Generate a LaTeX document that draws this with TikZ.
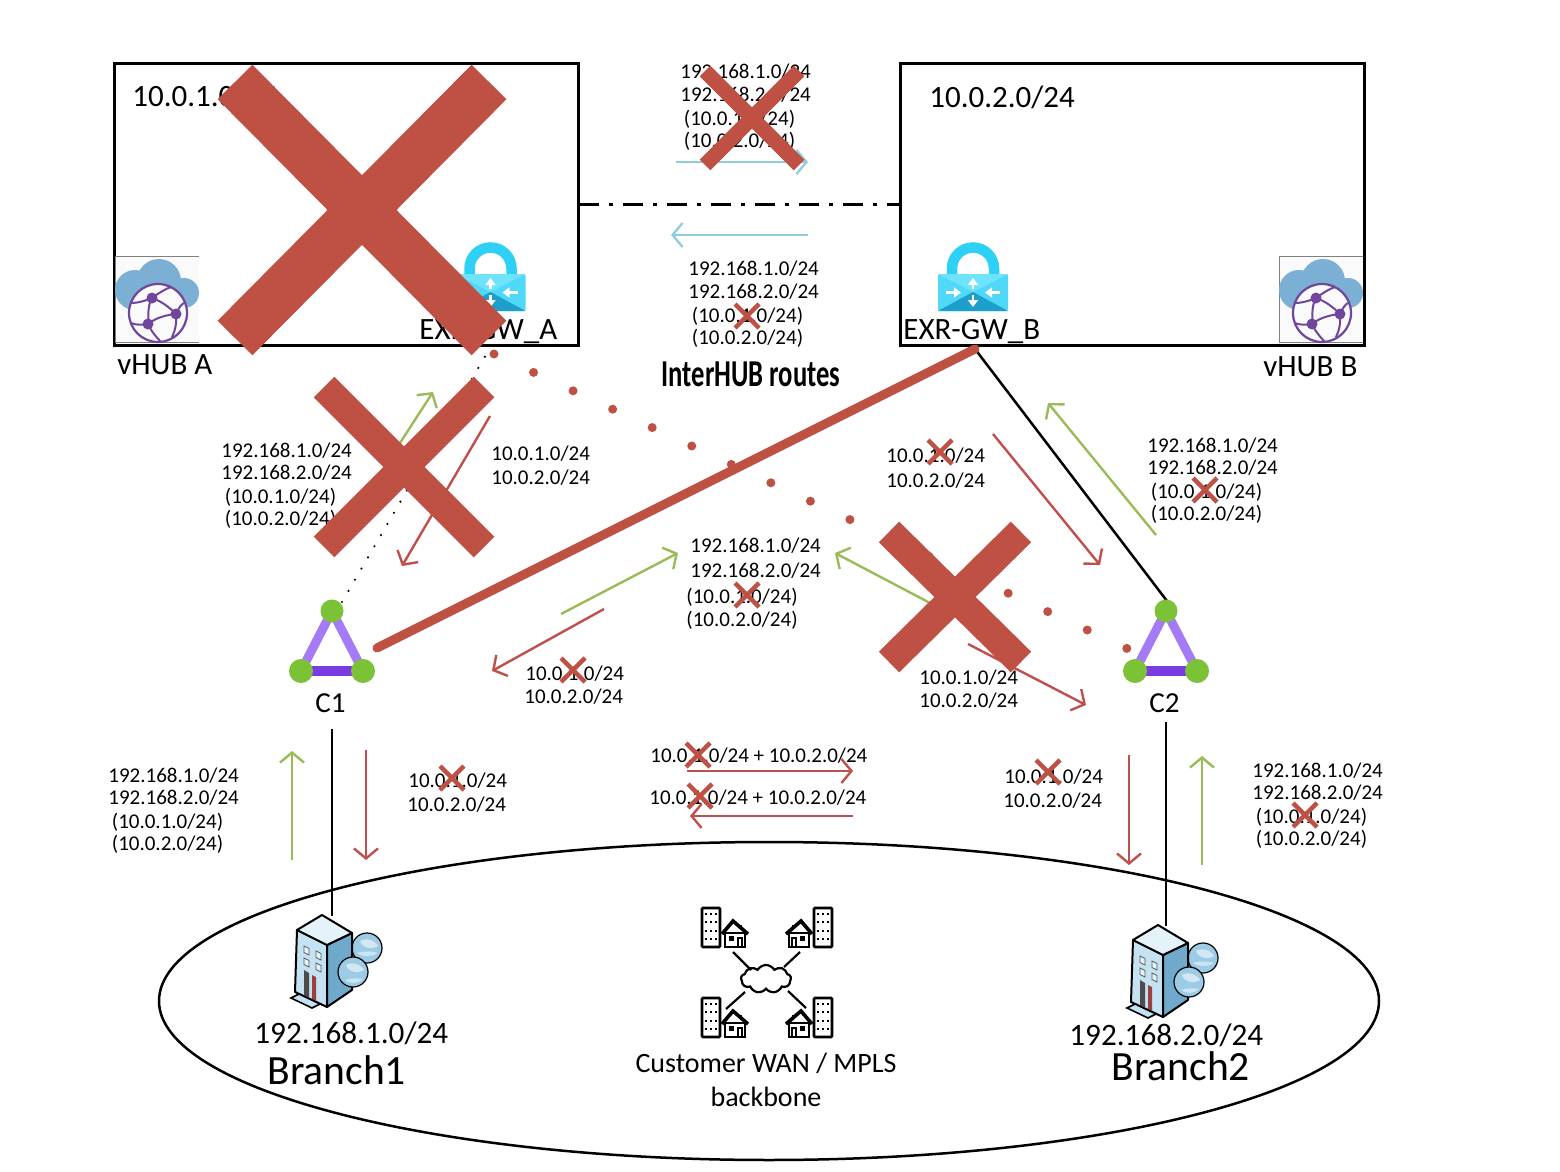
\documentclass[tikz,border=0pt]{standalone}
\usepackage{fontspec}
\setmainfont{Carlito}
\usetikzlibrary{arrows.meta,shapes.geometric,shapes.symbols}
\definecolor{xred}{HTML}{BE5044}
\definecolor{agreen}{HTML}{9BBB59}
\definecolor{ablue}{HTML}{92CDDC}
\definecolor{ared}{HTML}{C0504D}
\definecolor{cloudblue}{HTML}{7BAFD4}
\definecolor{globepurple}{HTML}{71459B}
\definecolor{nodegreen}{HTML}{7CC236}
\definecolor{sidepurple}{HTML}{A57AF5}
\definecolor{basepurple}{HTML}{7A3CE0}
\definecolor{lockcyan}{HTML}{2FD0F5}
\definecolor{lockbody}{HTML}{4FD8F8}
\definecolor{lockdark}{HTML}{1E9FCB}
\definecolor{locklight}{HTML}{6FE3FB}
\definecolor{bldgtop}{HTML}{E4F2FA}
\definecolor{bldgleft}{HTML}{C4E2F2}
\definecolor{bldgright}{HTML}{6FAACD}
\definecolor{bldgglobe}{HTML}{9CCBE6}
\tikzset{
  x=0.5pt,y=-0.5pt,
  lab/.style={anchor=base west,xshift=-.5pt,yshift=-4pt,inner sep=0pt,font=\fontsize{10.5}{12}\selectfont},
  big/.style={anchor=base west,xshift=-.5pt,yshift=-5pt,inner sep=0pt,font=\fontsize{15.5}{18}\selectfont},
  bigger/.style={anchor=base west,xshift=-.5pt,yshift=-5pt,inner sep=0pt,font=\fontsize{15.6}{18}\selectfont},
  huge/.style={anchor=base west,xshift=-.5pt,yshift=-6pt,inner sep=0pt,font=\fontsize{20.8}{24}\selectfont},
  hubbox/.style={draw=black,line width=1.5pt,minimum width=232pt,minimum height=140.5pt,inner sep=0pt,outer sep=0pt},
  arr/.style={line width=1.2pt,-{Straight Barb[length=5pt,width=12pt,line width=1.2pt]}},
  redarr/.style={arr,draw=ared},
  greenarr/.style={arr,draw=agreen},
  bluearr/.style={arr,draw=ablue},
  link/.style={draw=black,line width=1.25pt},
}
% big and small crosses: centre x, centre y, half size x, half size y, width
\newcommand\crossmark[5]{%
  \draw[xred,line width=#5] (#1-#3,#2-#4) -- (#1+#3,#2+#4);
  \draw[xred,line width=#5] (#1+#3,#2-#4) -- (#1-#3,#2+#4);}
\newcommand\tinyx[2]{\crossmark{#1}{#2}{12}{12}{2.2pt}}
% four line route list
\newcommand\routelist[3]{%
  \node[lab] (#1a) at (#2,#3) {192.168.1.0/24};
  \node[lab] (#1b) at (#2,#3+22.5) {192.168.2.0/24};
  \node[lab] (#1c) at (#2+3.5,#3+46.5) {(10.0.1.0/24)};
  \node[lab] (#1d) at (#2+3.5,#3+68.5) {(10.0.2.0/24)};}
\newcommand\tworoutes[5]{%
  \node[lab] (#1a) at (#2,#3) {10.0.1.0/24};
  \node[lab] (#1b) at (#4,#5) {10.0.2.0/24};}
\tikzset{
  hubicon/.pic={
    \fill[gray!4] (0,0) rectangle (84,85);
    \draw[gray,line width=.5pt] (84,85) -- (0,85) -- (0,0) -- (84,0);
    \fill[cloudblue] (44,24) circle (22);
    \fill[cloudblue] (20,33) circle (20);
    \fill[cloudblue] (69,36) circle (15);
    \fill[cloudblue] (20,28) rectangle (69,51);
    \filldraw[fill=gray!4,draw=globepurple,line width=1.1pt] (43,56) circle (29);
    \draw[globepurple,line width=1pt]
      (37,41) .. controls (32,50) and (34,58) .. (33,67)
      (37,41) .. controls (46,44) and (54,50) .. (61,57)
      (33,67) .. controls (42,60) and (52,58) .. (61,57)
      (37,41) .. controls (30,44) and (22,46) .. (17,46)
      (37,41) .. controls (44,36) and (50,32) .. (56,30)
      (61,57) .. controls (64,50) and (67,47) .. (69,46)
      (61,57) .. controls (62,66) and (60,74) .. (57,80)
      (33,67) .. controls (26,68) and (20,68) .. (16,66)
      (33,67) .. controls (36,74) and (42,81) .. (46,85);
    \fill[globepurple] (37,41) circle (5.5);
    \fill[globepurple] (61,57) circle (5.5);
    \fill[globepurple] (33,67) circle (5.5);
  },
  lockicon/.pic={
    \draw[lockcyan,line width=5.25pt] (-21,36) -- (-21,26.5) arc (180:360:21) -- (21,36);
    \fill[lockbody,rounded corners=1pt] (-35,32) rectangle (35,69);
    \fill[locklight] (-35,32) -- (35,32) -- (0,50) -- cycle;
    \fill[lockdark] (-35,69) -- (35,69) -- (0,50) -- cycle;
    \draw[white,line width=1.1pt,-{Triangle[length=3.5pt,width=5pt]}] (0,47) -- (0,36);
    \draw[white,line width=1.1pt,-{Triangle[length=3.5pt,width=5pt]}] (0,53) -- (0,65);
    \draw[white,line width=1.1pt,-{Triangle[length=3.5pt,width=5pt]}] (-27,50.5) -- (-12,50.5);
    \draw[white,line width=1.1pt,-{Triangle[length=3.5pt,width=5pt]}] (27,50.5) -- (12,50.5);
  },
  triad/.pic={
    \draw[sidepurple,line width=4.5pt] (-31,60) -- (0,0) -- (31,60);
    \draw[basepurple,line width=5pt] (-31,60) -- (31,60);
    \fill[nodegreen] (0,0) circle (11.5);
    \fill[nodegreen] (-31,60) circle (12);
    \fill[nodegreen] (31,60) circle (12);
  },
  officebldg/.pic={
    \draw[black,line width=1.3pt,fill=white,rounded corners=.5pt] (702,908) rectangle (720,947);
    \foreach \yy in {914,922,931,939}{\foreach \xx in {706,711,716}{\fill[black] (\xx-1.2,\yy-1.2) rectangle (\xx+1.2,\yy+1.2);}}
  },
  houseicon/.pic={
    \draw[black,line width=1.3pt,fill=white] (725,933) rectangle (745,947);
    \draw[black,line width=1.8pt] (722,934) -- (733,921) -- (748,934);
    \draw[black,line width=1.2pt] (741,925) -- (741,930);
    \fill[black] (729,936) rectangle (734,941);
    \draw[black,line width=1pt] (738,947) -- (738,938) -- (742,938) -- (742,947);
  },
  buildingicon/.pic={
    \filldraw[fill=bldgglobe,draw=black,line width=.6pt] (367,948) circle (15);
    \fill[white,opacity=.55] (360,941) .. controls (366,937) and (376,941) .. (378,946) .. controls (372,950) and (362,948) .. (360,941);
    \fill[white,opacity=.5] (357,953) .. controls (362,957) and (372,957) .. (378,953) .. controls (372,951) and (362,951) .. (357,953);
    \filldraw[fill=bldgleft,draw=black,line width=1pt,line join=round] (297,930) -- (327,945) -- (327,1007) -- (295,992) -- cycle;
    \filldraw[fill=bldgright,draw=black,line width=1pt,line join=round] (327,945) -- (352,933) -- (352,990) -- (327,1007) -- cycle;
    \filldraw[fill=bldgtop,draw=black,line width=1pt,line join=round] (322,915) -- (352,933) -- (327,945) -- (297,930) -- cycle;
    \filldraw[fill=bldgglobe,draw=black,line width=.6pt] (353,972) circle (15);
    \fill[white,opacity=.55] (346,965) .. controls (352,961) and (362,965) .. (364,970) .. controls (358,974) and (348,972) .. (346,965);
    \fill[white,opacity=.5] (345,980) .. controls (350,984) and (358,984) .. (363,979) .. controls (358,978) and (350,978) .. (345,980);
    \foreach \xa/\ya in {304/946,316/951,304/958,316/963}{
      \filldraw[fill=bldgtop,draw=gray!70!black,line width=.4pt] (\xa,\ya) -- (\xa+5,\ya+2.5) -- (\xa+5,\ya+9) -- (\xa,\ya+6.5) -- cycle;}
    \fill[gray!60!black] (304,970) -- (309,973) -- (309,999) -- (304,996) -- cycle;
    \fill[ared!80!black] (312,975) -- (316,977) -- (316,1001) -- (312,999) -- cycle;
    \filldraw[fill=bldgleft,draw=black,line width=.8pt] (291,998) -- (299,994) -- (320,1004) -- (312,1008) -- cycle;
  },
}
\begin{document}
\begin{tikzpicture}
\useasboundingbox (0,0) rectangle (1560,1172);
\fill[white] (0,0) rectangle (1560,1172);

% ellipse
\node[ellipse,draw=black,line width=1.25pt,minimum width=610pt,minimum height=159pt,inner sep=0pt] (wan) at (769,1001) {};

% hub boxes
\node[hubbox] (hubA) at (346.5,204.5) {};
\node[hubbox] (hubB) at (1132,204.5) {};
\draw[black,line width=1.4pt,dash pattern=on 10pt off 5pt on 2pt off 5pt] (hubA.east) -- (hubB.west);

\pic at (115,257) {hubicon};
\pic at (1279,257) {hubicon};
\pic at (490.5,242) {lockicon};
\pic at (973,242) {lockicon};

\node[big] (netA) at (133,97) {10.0.1.0/24};
\node[big] (netB) at (930,98) {10.0.2.0/24};
\node[big] (gwA) at (420,329) {EXR-GW\_A};
\node[big] (gwB) at (904,329) {EXR-GW\_B};
\node[big] (vhubA) at (118,364) {vHUB A};
\node[big] (vhubB) at (1264,366) {vHUB B};
\node[inner sep=0pt,xscale=.70,font=\fontsize{19}{22}\selectfont\bfseries] (inter) at (751,374) {InterHUB routes};

% named ends
\coordinate (c1top) at (332,611);
\coordinate (c2top) at (1166,611);
\coordinate (gwAend) at (487,353);
\coordinate (gwBend) at (975,349);
\coordinate (c1dot) at (342,602);
\coordinate (c1thick) at (377,648);
\coordinate (c2in) at (1167,601);
\coordinate (c1low) at (332,729);
\coordinate (c2low) at (1166,722);
\coordinate (br1) at (332,916);
\coordinate (br2) at (1166,926);

% connectors
\draw[black,line width=1.2pt,line cap=round,dash pattern=on 0pt off 6.45pt] (c1dot) -- (gwAend);
\draw[link] (gwBend) -- (c2in);
\draw[link] (c1low) -- (br1);
\draw[link] (c2low) -- (br2);
\draw[xred,line width=4.5pt,line cap=round] (c1thick) -- (gwBend);
\foreach \i in {0,...,16}{\fill[xred] (494+39.55*\i,354+18.4*\i) circle (4.5);}

% triads
\pic at (332,611) {triad};
\pic at (1166,611) {triad};
\node[anchor=base west,xshift=-.5pt,yshift=-5pt,inner sep=0pt,font=\fontsize{14.5}{17}\selectfont] (c1lab) at (316,702) {C1};
\node[anchor=base west,xshift=-.5pt,yshift=-5pt,inner sep=0pt,font=\fontsize{14.5}{17}\selectfont] (c2lab) at (1150,702) {C2};

% icons in WAN
\pic at (0,0) {buildingicon};
\pic at (836,10) {buildingicon};

\pic at (0,0) {officebldg};
\pic at (0,0) {houseicon};
\pic[xscale=-1] at (1534,0) {officebldg};
\pic[xscale=-1] at (1534,0) {houseicon};
\pic at (0,90) {officebldg};
\pic at (0,90) {houseicon};
\pic[xscale=-1] at (1534,90) {officebldg};
\pic[xscale=-1] at (1534,90) {houseicon};
\node[cloud,draw=black,line width=1.1pt,fill=white,cloud puffs=9,cloud puff arc=120,aspect=1.7,minimum width=25pt,minimum height=14pt,inner sep=0pt] (wancloud) at (766,979) {};
\coordinate (w1) at (733,952); \coordinate (w1b) at (751,970);
\coordinate (w2) at (800,952); \coordinate (w2b) at (784,967);
\coordinate (w3) at (726,1009); \coordinate (w3b) at (745,992);
\coordinate (w4) at (806,1008); \coordinate (w4b) at (788,991);
\draw[black,line width=1.1pt] (w1) -- (w1b) (w2) -- (w2b) (w3) -- (w3b) (w4) -- (w4b);

\node[bigger] (net1) at (255,1033) {192.168.1.0/24};
\node[huge] (branch1) at (268,1072) {Branch1};
\node[bigger] (net2) at (1070,1035) {192.168.2.0/24};
\node[huge] (branch2) at (1112,1068) {Branch2};
\node[inner sep=0pt,font=\fontsize{14}{16}\selectfont] (wanA) at (766,1063) {Customer WAN / MPLS};
\node[inner sep=0pt,font=\fontsize{14}{16}\selectfont] (wanB) at (766,1097) {backbone};

% route labels
\routelist{top}{681}{71}
\routelist{low}{689}{268}
\routelist{left}{222}{449}
\routelist{right}{1148}{444}
\routelist{bl}{109}{774}
\routelist{br}{1253}{769}
\node[lab] (mida) at (691,544) {192.168.1.0/24};
\node[lab] (midb) at (691,569) {192.168.2.0/24};
\node[lab] (midc) at (687,595) {(10.0.1.0/24)};
\node[lab] (midd) at (687,618) {(10.0.2.0/24)};
\tworoutes{ra}{492}{452}{492}{476}
\tworoutes{rb}{887}{454}{887}{479}
\tworoutes{rc}{526}{672}{525}{695}
\tworoutes{rd}{920}{676}{920}{699}
\tworoutes{re}{409}{779}{408}{803}
\tworoutes{rf}{1005}{775}{1004}{799}
\node[lab] (wana) at (651,754) {10.0.1.0/24 + 10.0.2.0/24};
\node[lab] (wanb) at (650,796) {10.0.1.0/24 + 10.0.2.0/24};

% arrows
\coordinate (a1s) at (676,162); \coordinate (a1e) at (808,162);
\coordinate (a2s) at (808,235); \coordinate (a2e) at (671,235);
\draw[bluearr] (a1s) -- (a1e);
\draw[bluearr] (a2s) -- (a2e);
\coordinate (a3s) at (400,443); \coordinate (a3e) at (433,392);
\coordinate (a4s) at (490,416); \coordinate (a4e) at (402,566);
\coordinate (a5s) at (993,434); \coordinate (a5e) at (1100,565);
\coordinate (a6s) at (1156,535); \coordinate (a6e) at (1048,403);
\coordinate (a7s) at (561,614); \coordinate (a7e) at (678,553);
\coordinate (a8s) at (930,603); \coordinate (a8e) at (835,553);
\coordinate (a9s) at (604,609); \coordinate (a9e) at (492,671);
\coordinate (a10s) at (968,644); \coordinate (a10e) at (1086,705);
\coordinate (a11s) at (292,860); \coordinate (a11e) at (292,751);
\coordinate (a12s) at (366,750); \coordinate (a12e) at (366,860);
\coordinate (a13s) at (1129,755); \coordinate (a13e) at (1129,865);
\coordinate (a14s) at (1202,865); \coordinate (a14e) at (1202,756);
\coordinate (a15s) at (687,771); \coordinate (a15e) at (853,771);
\coordinate (a16s) at (853,816); \coordinate (a16e) at (690,816);
\draw[greenarr] (a3s) -- (a3e);
\draw[redarr] (a4s) -- (a4e);
\draw[redarr] (a5s) -- (a5e);
\draw[greenarr] (a6s) -- (a6e);
\draw[greenarr] (a7s) -- (a7e);
\draw[greenarr] (a8s) -- (a8e);
\draw[redarr] (a9s) -- (a9e);
\draw[redarr] (a10s) -- (a10e);
\draw[greenarr] (a11s) -- (a11e);
\draw[redarr] (a12s) -- (a12e);
\draw[redarr] (a13s) -- (a13e);
\draw[greenarr] (a14s) -- (a14e);
\draw[redarr] (a15s) -- (a15e);
\draw[redarr] (a16s) -- (a16e);

% crosses
\crossmark{362}{210}{127}{128}{24.5pt}
\crossmark{404}{467}{80}{80}{14.5pt}
\crossmark{955}{597}{66}{65}{14.5pt}
\crossmark{752}{118}{47}{47}{7.5pt}
\tinyx{747}{316}
\tinyx{940}{452}
\tinyx{1205}{490}
\tinyx{747}{595}
\tinyx{573}{670}
\tinyx{452}{778}
\tinyx{1048}{772}
\tinyx{698}{755}
\tinyx{700}{796}
\tinyx{1305}{815}
\end{tikzpicture}
\end{document}
